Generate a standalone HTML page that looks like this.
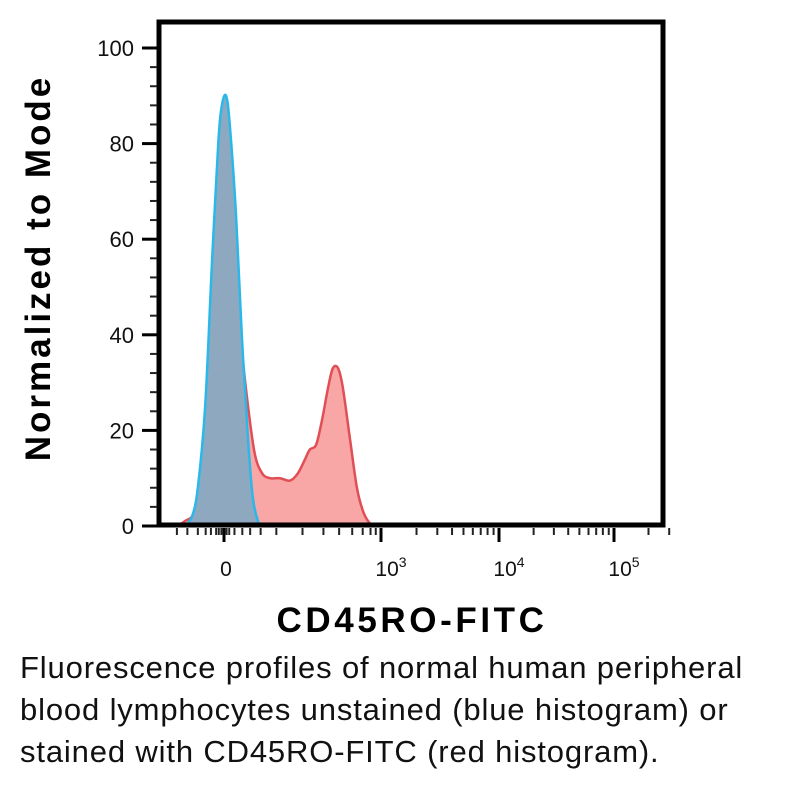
<!DOCTYPE html>
<html><head><meta charset="utf-8"><style>
body{margin:0;background:#fff;width:800px;height:800px;overflow:hidden;font-family:"Liberation Sans",sans-serif}
.cap{position:absolute;left:20px;top:647px;font-size:31px;line-height:42px;color:#111;letter-spacing:0.85px;white-space:nowrap}
</style></head><body>
<svg id="chart" width="800" height="640" style="position:absolute;left:0;top:0" font-family="Liberation Sans, sans-serif"></svg>
<div class="cap">Fluorescence profiles of normal human peripheral<br>blood lymphocytes unstained (blue histogram) or<br>stained with CD45RO-FITC (red histogram).</div>
<script>
const redX=[-0.94,-0.75,-0.55,-0.36,-0.23,-0.11,-0.04,0.04,0.15,0.31,0.46,0.59,0.73,0.88,1.07,1.26,1.41,1.55,1.64,1.76,1.87,1.99,2.08,2.18,2.27,2.41,2.54,2.66,2.79,2.89];
const redY=[0,1,4,20,50,72,77,75,60,40,25,15,11,10,10,9.5,11,14,16,17,22,29,33,33,29,18,8,3,0.5,0];
const blueX=[-0.75,-0.61,-0.50,-0.36,-0.23,-0.11,-0.04,0.04,0.11,0.23,0.34,0.46,0.55,0.65,0.73];
const blueY=[0,2,8,25,55,80,88,90,84,65,40,18,6,1,0];
const yTicks=[0,20,40,60,80,100];
const xTickVals=[0,3,4,5];
const xTickLabels=["0","10","10","10"];
const xTickExp=["","3","4","5"];
const svg=document.getElementById('chart');
const NS='http://www.w3.org/2000/svg';
function X(d){if(d<=3)return 224+d*157/3;if(d<=4)return 381+(d-3)*118;return 499+(d-4)*115;}
function Y(v){return 526-v*4.78;}
function mk(tag,attrs,parent){const e=document.createElementNS(NS,tag);for(const k in attrs)e.setAttribute(k,attrs[k]);(parent||svg).appendChild(e);return e;}
function smooth(xs,ys){const p=xs.map((x,i)=>[X(x),Y(ys[i])]);let d='M'+p[0][0]+','+p[0][1];
 for(let i=0;i<p.length-1;i++){const p0=p[i-1]||p[i],p1=p[i],p2=p[i+1],p3=p[i+2]||p2;
  const c1=[p1[0]+(p2[0]-p0[0])/6,p1[1]+(p2[1]-p0[1])/6],c2=[p2[0]-(p3[0]-p1[0])/6,p2[1]-(p3[1]-p1[1])/6];
  d+=' C'+c1[0]+','+c1[1]+' '+c2[0]+','+c2[1]+' '+p2[0]+','+p2[1];}return d;}
const r=mk('path',{d:smooth(redX,redY)+' Z',fill:'#f8a6a6'});

const rl=mk('path',{d:smooth(redX,redY),fill:'none',stroke:'#e04f55','stroke-width':2.5,'stroke-linejoin':'round'});

const b=mk('path',{d:smooth(blueX,blueY)+' Z',fill:'#8ea9bf'});

const bl=mk('path',{d:smooth(blueX,blueY),fill:'none',stroke:'#2ab8ea','stroke-width':2.5,'stroke-linejoin':'round'});

const fr=mk('rect',{x:159,y:22,width:504,height:503,fill:'none',stroke:'#000','stroke-width':5});

for(let v=0;v<=100;v+=4){mk('line',{x1:150,x2:157,y1:Y(v),y2:Y(v),stroke:'#222','stroke-width':2});}
yTicks.forEach(v=>{const t=mk('line',{x1:142,x2:157,y1:Y(v),y2:Y(v),stroke:'#000','stroke-width':3});
 
 const l=mk('text',{x:134,y:Y(v)+8,'text-anchor':'end','font-size':22,fill:'#111'});l.textContent=v;
 });
const minors=[-0.9,-0.7,-0.5,-0.35,-0.25,-0.15,-0.1,-0.05,0.05,0.1,0.2,0.35,0.5,0.7,1,1.5,1.9,2.2,2.45,2.65,2.8,2.9];
minors.forEach(d=>mk('line',{x1:X(d),x2:X(d),y1:528,y2:535,stroke:'#222','stroke-width':2}));
for(let dec=3;dec<5;dec++){for(let k=2;k<=9;k++){const d=dec+Math.log10(k);mk('line',{x1:X(d),x2:X(d),y1:528,y2:535,stroke:'#222','stroke-width':2});}}
[5.3,5.48].forEach(d=>mk('line',{x1:X(d),x2:X(d),y1:528,y2:535,stroke:'#222','stroke-width':2}));
xTickVals.forEach((d,i)=>{const t=mk('line',{x1:X(d),x2:X(d),y1:528,y2:542,stroke:'#000','stroke-width':3});
 
 const l=mk('text',{x:X(d)+(i?10:2),y:576,'text-anchor':'middle','font-size':21,fill:'#111'});
 
 l.textContent=xTickLabels[i];
 if(xTickExp[i]){const s=mk('tspan',{dy:-9,'font-size':14},l);s.textContent=xTickExp[i];}});
const xt=mk('text',{x:412,y:632,'text-anchor':'middle','font-size':35,'font-weight':'bold',fill:'#000','letter-spacing':3.6});
xt.textContent='CD45RO-FITC';
const yt=mk('text',{x:0,y:0,'text-anchor':'middle','font-size':35,'font-weight':'bold',fill:'#000','letter-spacing':3,transform:'translate(50,268) rotate(-90)'});
yt.textContent='Normalized to Mode';
</script>
</body></html>
